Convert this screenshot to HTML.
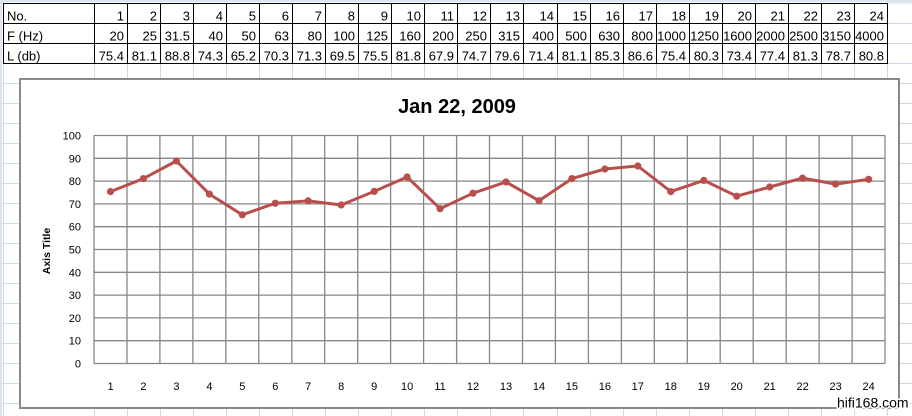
<!DOCTYPE html>
<html><head><meta charset="utf-8"><style>
html,body{margin:0;padding:0;background:#fff;width:912px;height:416px;overflow:hidden}
svg{display:block}
text{font-family:"Liberation Sans",Arial,sans-serif}
</style></head><body>
<svg width="912" height="416" viewBox="0 0 912 416" xmlns="http://www.w3.org/2000/svg">
<rect width="912" height="416" fill="#fff"/>
<!-- spreadsheet grid -->
<g stroke="#d0d7e5" stroke-width="1">
<line x1="0" y1="83.5" x2="912" y2="83.5"/><line x1="0" y1="103.5" x2="912" y2="103.5"/><line x1="0" y1="123.5" x2="912" y2="123.5"/><line x1="0" y1="143.5" x2="912" y2="143.5"/><line x1="0" y1="163.5" x2="912" y2="163.5"/><line x1="0" y1="183.5" x2="912" y2="183.5"/><line x1="0" y1="203.5" x2="912" y2="203.5"/><line x1="0" y1="223.5" x2="912" y2="223.5"/><line x1="0" y1="243.5" x2="912" y2="243.5"/><line x1="0" y1="263.5" x2="912" y2="263.5"/><line x1="0" y1="283.5" x2="912" y2="283.5"/><line x1="0" y1="303.5" x2="912" y2="303.5"/><line x1="0" y1="323.5" x2="912" y2="323.5"/><line x1="0" y1="343.5" x2="912" y2="343.5"/><line x1="0" y1="363.5" x2="912" y2="363.5"/><line x1="0" y1="383.5" x2="912" y2="383.5"/><line x1="0" y1="403.5" x2="912" y2="403.5"/>
<line x1="887.5" y1="3" x2="912" y2="3"/><line x1="887.5" y1="23.5" x2="912" y2="23.5"/><line x1="887.5" y1="43.5" x2="912" y2="43.5"/><line x1="887.5" y1="63.5" x2="912" y2="63.5"/>
<line x1="3.5" y1="0" x2="3.5" y2="416"/>
<line x1="94.5" y1="63" x2="94.5" y2="416"/><line x1="127.5" y1="63" x2="127.5" y2="416"/><line x1="160.5" y1="63" x2="160.5" y2="416"/><line x1="193.5" y1="63" x2="193.5" y2="416"/><line x1="226.5" y1="63" x2="226.5" y2="416"/><line x1="259.5" y1="63" x2="259.5" y2="416"/><line x1="292.5" y1="63" x2="292.5" y2="416"/><line x1="325.5" y1="63" x2="325.5" y2="416"/><line x1="358.5" y1="63" x2="358.5" y2="416"/><line x1="391.5" y1="63" x2="391.5" y2="416"/><line x1="424.5" y1="63" x2="424.5" y2="416"/><line x1="457.5" y1="63" x2="457.5" y2="416"/><line x1="490.5" y1="63" x2="490.5" y2="416"/><line x1="523.5" y1="63" x2="523.5" y2="416"/><line x1="557.5" y1="63" x2="557.5" y2="416"/><line x1="590.5" y1="63" x2="590.5" y2="416"/><line x1="623.5" y1="63" x2="623.5" y2="416"/><line x1="656.5" y1="63" x2="656.5" y2="416"/><line x1="689.5" y1="63" x2="689.5" y2="416"/><line x1="722.5" y1="63" x2="722.5" y2="416"/><line x1="755.5" y1="63" x2="755.5" y2="416"/><line x1="788.5" y1="63" x2="788.5" y2="416"/><line x1="821.5" y1="63" x2="821.5" y2="416"/><line x1="854.5" y1="63" x2="854.5" y2="416"/><line x1="887.5" y1="0" x2="887.5" y2="416"/>
</g>
<rect x="0" y="0" width="912" height="2" fill="#dbe5f1"/>
<rect x="0" y="0" width="2" height="416" fill="#dbe5f1"/>
<!-- table borders -->
<g stroke="#000" stroke-width="1">
<line x1="3" y1="3.5" x2="888" y2="3.5"/><line x1="3" y1="23.5" x2="888" y2="23.5"/><line x1="3" y1="43.5" x2="888" y2="43.5"/><line x1="3" y1="63.5" x2="888" y2="63.5"/>
<line x1="3.5" y1="3" x2="3.5" y2="64"/><line x1="94.5" y1="3" x2="94.5" y2="64"/><line x1="127.5" y1="3" x2="127.5" y2="64"/><line x1="160.5" y1="3" x2="160.5" y2="64"/><line x1="193.5" y1="3" x2="193.5" y2="64"/><line x1="226.5" y1="3" x2="226.5" y2="64"/><line x1="259.5" y1="3" x2="259.5" y2="64"/><line x1="292.5" y1="3" x2="292.5" y2="64"/><line x1="325.5" y1="3" x2="325.5" y2="64"/><line x1="358.5" y1="3" x2="358.5" y2="64"/><line x1="391.5" y1="3" x2="391.5" y2="64"/><line x1="424.5" y1="3" x2="424.5" y2="64"/><line x1="457.5" y1="3" x2="457.5" y2="64"/><line x1="490.5" y1="3" x2="490.5" y2="64"/><line x1="523.5" y1="3" x2="523.5" y2="64"/><line x1="557.5" y1="3" x2="557.5" y2="64"/><line x1="590.5" y1="3" x2="590.5" y2="64"/><line x1="623.5" y1="3" x2="623.5" y2="64"/><line x1="656.5" y1="3" x2="656.5" y2="64"/><line x1="689.5" y1="3" x2="689.5" y2="64"/><line x1="722.5" y1="3" x2="722.5" y2="64"/><line x1="755.5" y1="3" x2="755.5" y2="64"/><line x1="788.5" y1="3" x2="788.5" y2="64"/><line x1="821.5" y1="3" x2="821.5" y2="64"/><line x1="854.5" y1="3" x2="854.5" y2="64"/><line x1="887.5" y1="3" x2="887.5" y2="64"/>
</g>
<g font-size="13" fill="#000">
<text x="7" y="20.5">No.</text><text x="7" y="40.5">F (Hz)</text><text x="7" y="60.5">L (db)</text>
</g>
<g font-size="13" fill="#000" text-anchor="end">
<text x="124" y="20.5">1</text><text x="157" y="20.5">2</text><text x="190" y="20.5">3</text><text x="223" y="20.5">4</text><text x="256" y="20.5">5</text><text x="289" y="20.5">6</text><text x="322" y="20.5">7</text><text x="355" y="20.5">8</text><text x="388" y="20.5">9</text><text x="421" y="20.5">10</text><text x="454" y="20.5">11</text><text x="487" y="20.5">12</text><text x="520" y="20.5">13</text><text x="554" y="20.5">14</text><text x="587" y="20.5">15</text><text x="620" y="20.5">16</text><text x="653" y="20.5">17</text><text x="686" y="20.5">18</text><text x="719" y="20.5">19</text><text x="752" y="20.5">20</text><text x="785" y="20.5">21</text><text x="818" y="20.5">22</text><text x="851" y="20.5">23</text><text x="884" y="20.5">24</text>
<text x="124" y="40.5">20</text><text x="157" y="40.5">25</text><text x="190" y="40.5">31.5</text><text x="223" y="40.5">40</text><text x="256" y="40.5">50</text><text x="289" y="40.5">63</text><text x="322" y="40.5">80</text><text x="355" y="40.5">100</text><text x="388" y="40.5">125</text><text x="421" y="40.5">160</text><text x="454" y="40.5">200</text><text x="487" y="40.5">250</text><text x="520" y="40.5">315</text><text x="554" y="40.5">400</text><text x="587" y="40.5">500</text><text x="620" y="40.5">630</text><text x="653" y="40.5">800</text><text x="686" y="40.5">1000</text><text x="719" y="40.5">1250</text><text x="752" y="40.5">1600</text><text x="785" y="40.5">2000</text><text x="818" y="40.5">2500</text><text x="851" y="40.5">3150</text><text x="884" y="40.5">4000</text>
<text x="124" y="60.5">75.4</text><text x="157" y="60.5">81.1</text><text x="190" y="60.5">88.8</text><text x="223" y="60.5">74.3</text><text x="256" y="60.5">65.2</text><text x="289" y="60.5">70.3</text><text x="322" y="60.5">71.3</text><text x="355" y="60.5">69.5</text><text x="388" y="60.5">75.5</text><text x="421" y="60.5">81.8</text><text x="454" y="60.5">67.9</text><text x="487" y="60.5">74.7</text><text x="520" y="60.5">79.6</text><text x="554" y="60.5">71.4</text><text x="587" y="60.5">81.1</text><text x="620" y="60.5">85.3</text><text x="653" y="60.5">86.6</text><text x="686" y="60.5">75.4</text><text x="719" y="60.5">80.3</text><text x="752" y="60.5">73.4</text><text x="785" y="60.5">77.4</text><text x="818" y="60.5">81.3</text><text x="851" y="60.5">78.7</text><text x="884" y="60.5">80.8</text>
</g>
<!-- chart box -->
<rect x="20" y="79" width="879" height="329" fill="#fff" stroke="#8a8a8a" stroke-width="2"/>
<text x="457" y="113" font-size="20" font-weight="bold" text-anchor="middle" fill="#000">Jan 22, 2009</text>
<text transform="translate(50,251) rotate(-90)" font-size="10.5" font-weight="bold" text-anchor="middle" fill="#000">Axis Title</text>
<!-- plot grid -->
<g stroke="#878787" stroke-width="1.3" fill="none">
<line x1="94" y1="135.5" x2="885" y2="135.5"/><line x1="94" y1="158.3" x2="885" y2="158.3"/><line x1="94" y1="181.1" x2="885" y2="181.1"/><line x1="94" y1="203.9" x2="885" y2="203.9"/><line x1="94" y1="226.7" x2="885" y2="226.7"/><line x1="94" y1="249.5" x2="885" y2="249.5"/><line x1="94" y1="272.3" x2="885" y2="272.3"/><line x1="94" y1="295.1" x2="885" y2="295.1"/><line x1="94" y1="317.9" x2="885" y2="317.9"/><line x1="94" y1="340.7" x2="885" y2="340.7"/><line x1="94" y1="363.5" x2="885" y2="363.5"/>
<line x1="94" y1="135.5" x2="94" y2="363.5"/><line x1="127" y1="135.5" x2="127" y2="363.5"/><line x1="159.9" y1="135.5" x2="159.9" y2="363.5"/><line x1="192.9" y1="135.5" x2="192.9" y2="363.5"/><line x1="225.8" y1="135.5" x2="225.8" y2="363.5"/><line x1="258.8" y1="135.5" x2="258.8" y2="363.5"/><line x1="291.8" y1="135.5" x2="291.8" y2="363.5"/><line x1="324.7" y1="135.5" x2="324.7" y2="363.5"/><line x1="357.7" y1="135.5" x2="357.7" y2="363.5"/><line x1="390.6" y1="135.5" x2="390.6" y2="363.5"/><line x1="423.6" y1="135.5" x2="423.6" y2="363.5"/><line x1="456.6" y1="135.5" x2="456.6" y2="363.5"/><line x1="489.5" y1="135.5" x2="489.5" y2="363.5"/><line x1="522.5" y1="135.5" x2="522.5" y2="363.5"/><line x1="555.4" y1="135.5" x2="555.4" y2="363.5"/><line x1="588.4" y1="135.5" x2="588.4" y2="363.5"/><line x1="621.4" y1="135.5" x2="621.4" y2="363.5"/><line x1="654.3" y1="135.5" x2="654.3" y2="363.5"/><line x1="687.3" y1="135.5" x2="687.3" y2="363.5"/><line x1="720.2" y1="135.5" x2="720.2" y2="363.5"/><line x1="753.2" y1="135.5" x2="753.2" y2="363.5"/><line x1="786.2" y1="135.5" x2="786.2" y2="363.5"/><line x1="819.1" y1="135.5" x2="819.1" y2="363.5"/><line x1="852.1" y1="135.5" x2="852.1" y2="363.5"/><line x1="885" y1="135.5" x2="885" y2="363.5"/>
</g>
<g font-size="11" fill="#000" text-anchor="end">
<text x="81" y="139.5">100</text><text x="81" y="162.3">90</text><text x="81" y="185.1">80</text><text x="81" y="207.9">70</text><text x="81" y="230.7">60</text><text x="81" y="253.5">50</text><text x="81" y="276.3">40</text><text x="81" y="299.1">30</text><text x="81" y="321.9">20</text><text x="81" y="344.7">10</text><text x="81" y="367.5">0</text>
</g>
<g font-size="11" fill="#000" text-anchor="middle">
<text x="110.5" y="390">1</text><text x="143.4" y="390">2</text><text x="176.4" y="390">3</text><text x="209.4" y="390">4</text><text x="242.3" y="390">5</text><text x="275.3" y="390">6</text><text x="308.2" y="390">7</text><text x="341.2" y="390">8</text><text x="374.2" y="390">9</text><text x="407.1" y="390">10</text><text x="440.1" y="390">11</text><text x="473" y="390">12</text><text x="506" y="390">13</text><text x="539" y="390">14</text><text x="571.9" y="390">15</text><text x="604.9" y="390">16</text><text x="637.8" y="390">17</text><text x="670.8" y="390">18</text><text x="703.8" y="390">19</text><text x="736.7" y="390">20</text><text x="769.7" y="390">21</text><text x="802.6" y="390">22</text><text x="835.6" y="390">23</text><text x="868.6" y="390">24</text>
</g>
<!-- series -->
<polyline fill="none" stroke="#b94f4c" stroke-width="3" stroke-linejoin="round" points="110.5,191.6 143.4,178.6 176.4,161 209.4,194.1 242.3,214.8 275.3,203.2 308.2,200.9 341.2,205 374.2,191.4 407.1,177 440.1,208.7 473,193.2 506,182 539,200.7 571.9,178.6 604.9,169 637.8,166 670.8,191.6 703.8,180.4 736.7,196.2 769.7,187 802.6,178.1 835.6,184.1 868.6,179.3"/>
<g fill="#b94f4c">
<circle cx="110.5" cy="191.6" r="3.6"/><circle cx="143.4" cy="178.6" r="3.6"/><circle cx="176.4" cy="161" r="3.6"/><circle cx="209.4" cy="194.1" r="3.6"/><circle cx="242.3" cy="214.8" r="3.6"/><circle cx="275.3" cy="203.2" r="3.6"/><circle cx="308.2" cy="200.9" r="3.6"/><circle cx="341.2" cy="205" r="3.6"/><circle cx="374.2" cy="191.4" r="3.6"/><circle cx="407.1" cy="177" r="3.6"/><circle cx="440.1" cy="208.7" r="3.6"/><circle cx="473" cy="193.2" r="3.6"/><circle cx="506" cy="182" r="3.6"/><circle cx="539" cy="200.7" r="3.6"/><circle cx="571.9" cy="178.6" r="3.6"/><circle cx="604.9" cy="169" r="3.6"/><circle cx="637.8" cy="166" r="3.6"/><circle cx="670.8" cy="191.6" r="3.6"/><circle cx="703.8" cy="180.4" r="3.6"/><circle cx="736.7" cy="196.2" r="3.6"/><circle cx="769.7" cy="187" r="3.6"/><circle cx="802.6" cy="178.1" r="3.6"/><circle cx="835.6" cy="184.1" r="3.6"/><circle cx="868.6" cy="179.3" r="3.6"/>
</g>
<!-- watermark -->
<text x="837" y="407.5" font-size="14" fill="#000" stroke="#fff" stroke-width="3" paint-order="stroke" stroke-linejoin="round">hifi168.com</text>
</svg>
</body></html>
